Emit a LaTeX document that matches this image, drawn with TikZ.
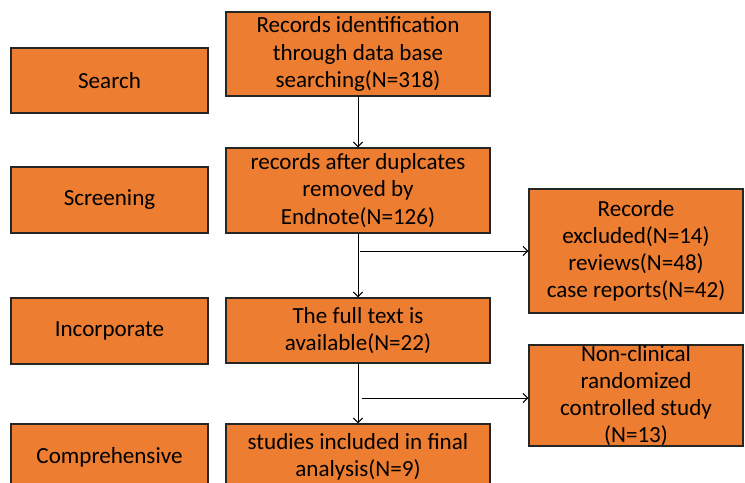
\documentclass[tikz,border=0pt]{standalone}
\usepackage{fontspec}
\setmainfont{Carlito}
\usetikzlibrary{positioning,calc,arrows.meta}
\definecolor{boxc}{RGB}{237,125,49}

\begin{document}
\begin{tikzpicture}[x=0.3mm,y=-0.3mm]
\tikzstyle{stage}=[draw=black!85,line width=1.2pt,fill=boxc,align=center,inner sep=0pt,font=\fontsize{19.7}{23.2}\selectfont];
\tikzstyle{arr}=[line width=0.8pt,-{Straight Barb[length=4pt,width=8pt]}];

\useasboundingbox (0,0) rectangle (745,482);
\clip (0,0) rectangle (745,482);

% left column: the stages
\node[stage,minimum width=59.1mm,minimum height=19.5mm] (search) at (109.5,80.5) {Search};
\node[stage,minimum width=59.1mm,minimum height=19.8mm] (screen) at (109.5,200) {Screening};
\node[stage,minimum width=59.1mm,minimum height=19.8mm] (incorp) at (109.5,331) {Incorporate};
\node[stage,minimum width=59.1mm,minimum height=19.8mm] (compr) at (109.5,457) {Comprehensive};

% middle column
\node[stage,minimum width=79.2mm,minimum height=25.2mm] (ident) at (358,54) {Records identification\\through data base\\searching(N=318)};
\node[stage,minimum width=79.2mm,minimum height=25.5mm] (dupl) at (358,190.5) {records after duplcates\\removed by\\Endnote(N=126)};
\node[stage,minimum width=79.2mm,minimum height=19.5mm] (full) at (358,330.5) {The full text is\\available(N=22)};
\node[stage,minimum width=79.2mm,minimum height=19.8mm] (final) at (358,457) {studies included in final\\analysis(N=9)};

% right column: exclusions
\node[stage,minimum width=64.2mm,minimum height=37.2mm] (excl) at (636,251) {Recorde\\excluded(N=14)\\reviews(N=48)\\case reports(N=42)};
\node[stage,minimum width=64.2mm,minimum height=29.1mm] (noncl) at (636,395.5) {Non-clinical\\randomized\\controlled study\\(N=13)};

\coordinate (b1) at (360,251);
\coordinate (b2) at (362,398);

\draw[arr] (ident) -- (dupl);
\draw[arr] (dupl) -- (full);
\draw[arr] (full) -- (final);
\draw[arr] (b1) -- (b1 -| excl.west);
\draw[arr] (b2) -- (b2 -| noncl.west);

\end{tikzpicture}
\end{document}
